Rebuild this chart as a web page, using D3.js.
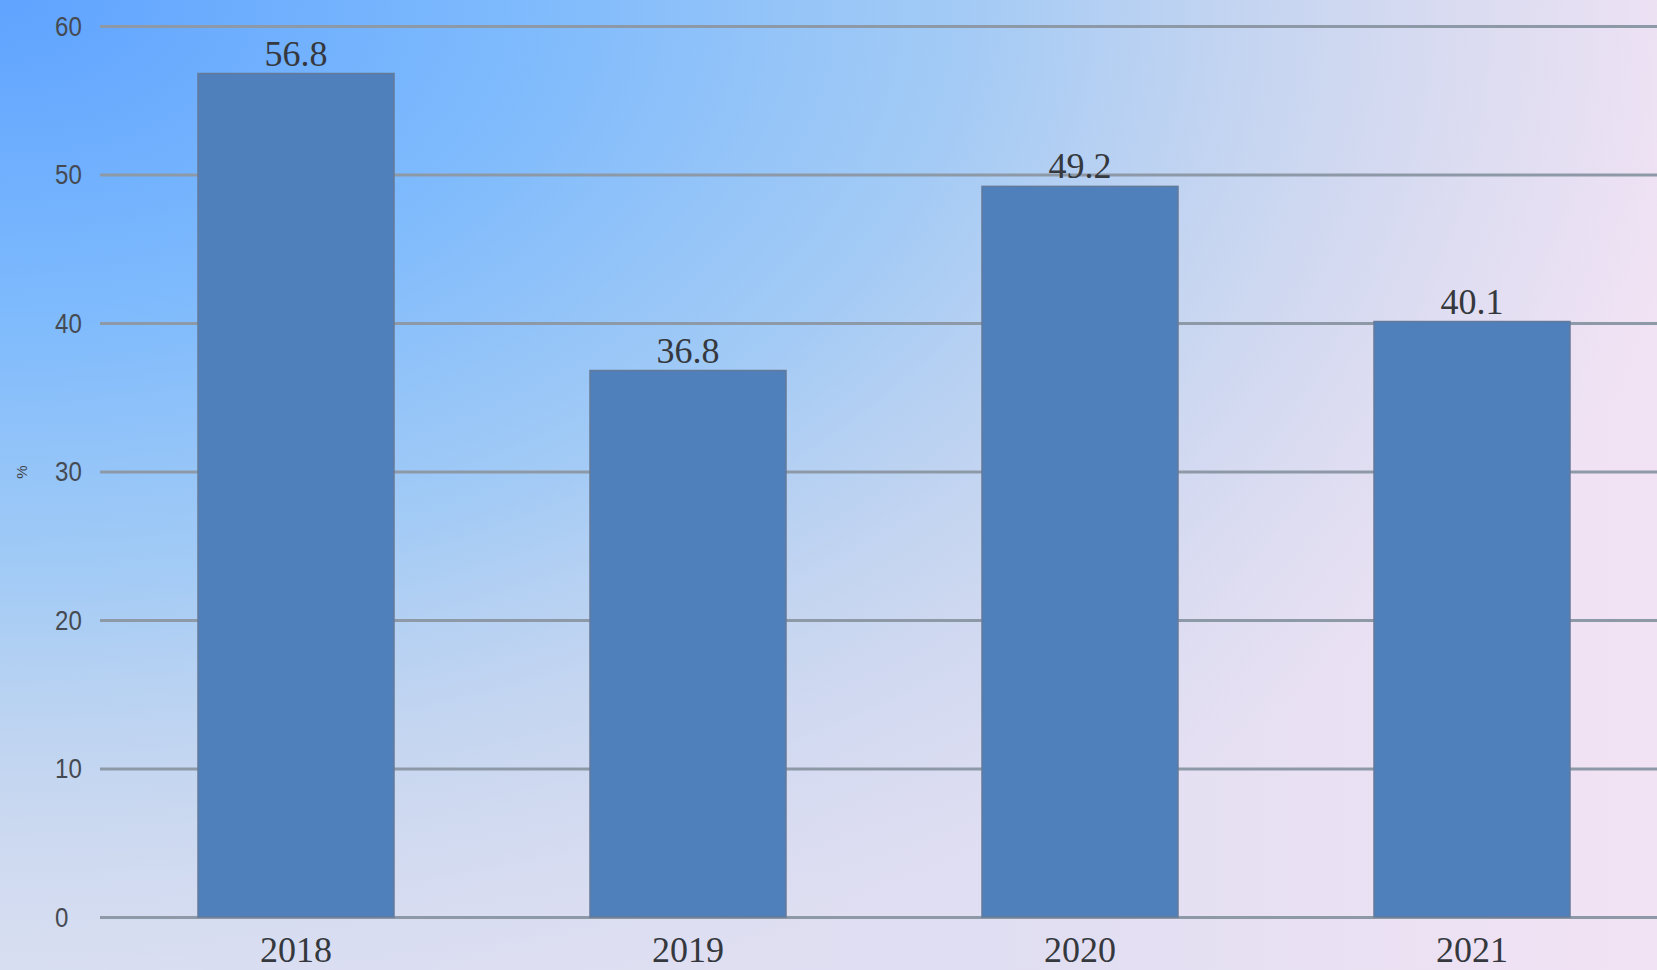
<!DOCTYPE html>
<html><head><meta charset="utf-8">
<script src="https://cdn.jsdelivr.net/npm/d3@7"></script>
<style>html,body{margin:0;padding:0;overflow:hidden;}svg{display:block;}</style>
</head><body>
<script>
const categories = ["2018", "2019", "2020", "2021"];
const values = [56.8, 36.8, 49.2, 40.1];
const yTicks = [0, 10, 20, 30, 40, 50, 60];
const yLabel = "%";

const W = 1657, H = 970;
const svg = d3.select("body").append("svg").attr("width", W).attr("height", H);
const defs = svg.append("defs");

const base = defs.append("linearGradient").attr("id", "bgBase").attr("x1", 0).attr("y1", 0).attr("x2", 1).attr("y2", 0);
base.append("stop").attr("offset", 0).attr("stop-color", "#dde0f2");
base.append("stop").attr("offset", 0.6).attr("stop-color", "#e0def2");
base.append("stop").attr("offset", 1).attr("stop-color", "#f2e3f4");

const rad = defs.append("radialGradient").attr("id", "bgBlue")
  .attr("gradientUnits", "userSpaceOnUse").attr("cx", 0).attr("cy", 0).attr("r", 1000)
  .attr("gradientTransform", "scale(1.75,1.05)");
[[0, "#5fa3ff", 1], [0.3, "#7bb9fd", 0.97], [0.55, "#98c7f6", 0.85], [0.78, "#b6d0ee", 0.5], [1, "#c8d6ee", 0]]
  .forEach(s => rad.append("stop").attr("offset", s[0]).attr("stop-color", s[1]).attr("stop-opacity", s[2]));

svg.append("rect").attr("width", W).attr("height", H).attr("fill", "url(#bgBase)");
svg.append("rect").attr("width", W).attr("height", H).attr("fill", "url(#bgBlue)");

const x = d3.scaleBand().domain(categories).range([100, 1668]).paddingInner(0.5).paddingOuter(0.25);
const y = d3.scaleLinear().domain([0, 60]).range([917, 26]);

// gridlines
const yAxis = d3.axisLeft(y).tickValues(yTicks).tickSize(-(W - 100)).tickFormat("");
const gy = svg.append("g").attr("transform", "translate(100,0)").call(yAxis);
gy.select(".domain").remove();
gy.selectAll(".tick line").attr("stroke", "#8e99a8").attr("stroke-width", 3);

// tick labels
svg.append("g").selectAll("text").data(yTicks).join("text")
  .attr("transform", d => `translate(55,${y(d)}) scale(0.86,1)`)
  .attr("dominant-baseline", "central")
  .attr("font-family", "Liberation Sans, Arial, sans-serif")
  .attr("font-size", 28).attr("fill", "#454a52")
  .text(d => d);

// y label
svg.append("text").attr("transform", "translate(27,472) rotate(-90)")
  .attr("text-anchor", "middle").attr("font-family", "Liberation Sans, Arial, sans-serif")
  .attr("font-size", 15).attr("fill", "#3f434a").text(yLabel);

// bars
svg.append("g").selectAll("rect").data(values).join("rect")
  .attr("x", (d, i) => x(categories[i]))
  .attr("y", d => y(d))
  .attr("width", x.bandwidth())
  .attr("height", d => y(0) - y(d))
  .attr("fill", "#4f80bc")
  .attr("stroke", "#647a99").attr("stroke-width", 1.5);

// value labels
svg.append("g").selectAll("text").data(values).join("text")
  .attr("x", (d, i) => x(categories[i]) + x.bandwidth() / 2)
  .attr("y", d => y(d) - 8)
  .attr("text-anchor", "middle")
  .attr("font-family", "Liberation Serif, Times New Roman, serif")
  .attr("font-size", 36).attr("fill", "#35383d")
  .text(d => d.toFixed(1));

// x labels
svg.append("g").selectAll("text").data(categories).join("text")
  .attr("x", d => x(d) + x.bandwidth() / 2)
  .attr("y", 962)
  .attr("text-anchor", "middle")
  .attr("font-family", "Liberation Serif, Times New Roman, serif")
  .attr("font-size", 36).attr("fill", "#35383d")
  .text(d => d);
</script>
</body></html>
